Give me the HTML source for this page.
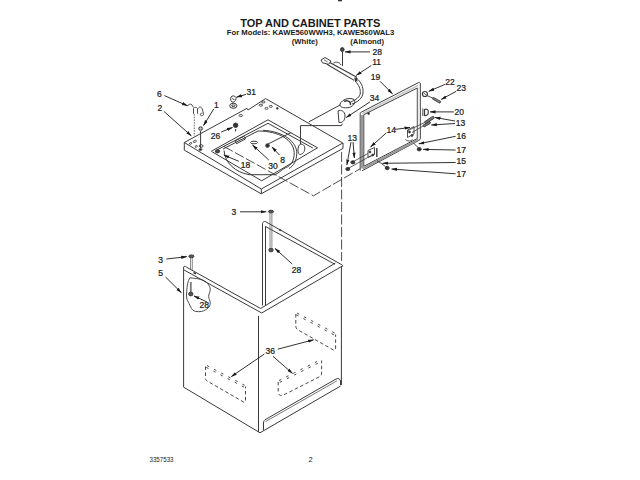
<!DOCTYPE html>
<html><head><meta charset="utf-8"><style>
html,body{margin:0;padding:0;background:#fff;width:640px;height:480px;overflow:hidden}
svg{display:block}
text{font-family:"Liberation Sans",sans-serif;fill:#1a1a1a}
.lb{font-size:9.5px;stroke:#1a1a1a;stroke-width:0.25}
</style></head><body>
<svg width="640" height="480" viewBox="0 0 640 480">
<defs>
<marker id="ah" markerWidth="6" markerHeight="4" refX="5.5" refY="2" orient="auto" markerUnits="userSpaceOnUse">
<path d="M0,0.4 L6,2 L0,3.6 Z" fill="#1a1a1a"/>
</marker>
</defs>
<rect x="338" y="0" width="4" height="1.3" fill="#333"/>
<g id="hdr">
<text transform="translate(240.2,26.9) scale(1.09,1)" font-weight="bold" font-size="10.1">TOP AND CABINET PARTS</text>
<text x="226.8" y="35.3" font-weight="bold" font-size="7.7">For Models:  KAWE560WWH3, KAWE560WAL3</text>
<text x="291.8" y="43.75" font-weight="bold" font-size="7.7">(White)</text>
<text x="350.3" y="43.75" font-weight="bold" font-size="7.7">(Almond)</text>
</g>
<g id="draw" fill="none" stroke="#3a3a3a" stroke-width="1">
<!-- top panel -->
<path d="M184.3,142.5 L247,108.3 L248,110 L265.6,98.6 L342.8,143 L261.3,189 Z"/>
<path d="M184.3,142.5 V150.2 L261.2,193.8 L343,148.4 V143"/>
<path d="M261.3,189 V193.8"/>
<!-- holes -->
<g stroke-width="0.9">
<ellipse cx="263.3" cy="102" rx="1.8" ry="1"/>
<ellipse cx="260.9" cy="105.2" rx="1.8" ry="1"/>
<ellipse cx="266.5" cy="108.4" rx="1.5" ry="1"/>
<ellipse cx="270.8" cy="106.4" rx="1.5" ry="1"/>
<ellipse cx="240.8" cy="115.5" rx="1.8" ry="1"/>
<ellipse cx="194.8" cy="141.4" rx="1.7" ry="0.9" transform="rotate(-25 194.8 141.4)" stroke-width="0.8"/>
<ellipse cx="190.6" cy="143.4" rx="1.3" ry="0.8" transform="rotate(-25 190.6 143.4)" stroke-width="0.8"/>
<ellipse cx="196.2" cy="146.4" rx="1.2" ry="0.8" transform="rotate(-25 196.2 146.4)" stroke-width="0.8"/>
</g>
<circle cx="277.3" cy="108.4" r="0.8" fill="#222"/>
<!-- well -->
<path d="M213,150.3 L268,119.8 L317.5,147.8 L261.7,180.8 L213,152.3 C211,151.5 211,150.8 213,150.3 Z"/>
<path d="M216.5,150.2 L268,123.3 L312.8,148"/>
<path d="M223,149 L258,131"/>
<!-- tub ring -->
<path d="M258,131 C279,131 293.5,140 294.2,152.5 C294.5,160 291,166 285.6,167.7 C281,170 278,174 274.4,174.7 L249,174.7 C235,172 225,163 224,150.5"/>
<path d="M263,130.3 C284,131.5 297,142 296.8,153.5 C296.5,161 293.5,166 289,168.5"/>
<!-- lid switch bracket -->
<path d="M300.5,125.6 H341.5 L342.3,123.8 M300.5,125.6 V144"/>
<path d="M299,145.5 C300,143.5 303.5,143.8 304.5,146.5 C305.5,150 304,153.5 300.5,154.5 C298.5,154.8 297.8,152 298,149 C298.2,147.5 298.5,146.5 299,145.5 Z"/>
<path d="M308.8,121.9 L340,105"/>
<!-- long dashed alignment -->
<path d="M224,146.5 L313.4,195.8 L360,168.8" stroke-dasharray="10,2.5" stroke-width="0.9"/>
<path d="M341.6,152 V261" stroke-dasharray="10,2.5" stroke-width="0.9"/>
<!-- cabinet -->
<path d="M262.5,305.5 V223.5 C262.6,222 264,221.3 265.5,221.6 L342.2,265 C343,265.6 342.8,266.5 342,266.5"/>
<path d="M265.5,305.5 V226.3"/>
<path d="M265.5,226.5 L335,264.3"/>
<path d="M183.6,387 V267 C184,266 185.5,266 186.4,267.1"/>
<path d="M186.4,267.1 L260.6,308.5 L335.4,263"/>
<path d="M184.1,270 L261.7,313 L342.2,266.1"/>
<path d="M258.5,315.8 V432"/>
<path d="M341.4,266.5 V385"/>
<path d="M183.4,387 L260,432.8 L340.6,386"/>
<path d="M263.5,430 V423 C263.5,421 264.5,420 266,419.2 L336,379 C338.5,377.8 340,379 340.5,381 V385"/>
<path d="M265.5,421.6 L337,380.8" stroke-width="0.8" stroke="#555"/>
<!-- screws 3 / nuts 28 -->
<ellipse cx="271" cy="211.6" rx="2.6" ry="1.4" fill="#555" stroke-width="1"/>
<path d="M270,213.3 V247.5 M271.9,213.3 V247.5" stroke="#555" stroke-width="0.7"/>
<ellipse cx="271" cy="250" rx="2.2" ry="1.9" fill="#555" stroke-width="0.9"/>
<path d="M279,229.5 L281,230.5" stroke-width="1.6"/>
<ellipse cx="191.4" cy="256.3" rx="2.6" ry="1.4" fill="#555" stroke-width="1"/>
<path d="M190.5,258 V270 M192.3,258 V270" stroke="#555" stroke-width="0.7"/>
<path d="M193.5,272.5 L196,273.8" stroke-width="1.5"/>
<path d="M189.8,277.8 C192,278 194.5,278.3 196.9,278.6 C199,279 201.5,279.5 203.1,280.2 C205.5,281.5 207.5,283 208.6,284.8 C209.8,286.5 210.5,288.5 210.2,290.3 C210,292.5 208.5,294.5 208.6,296.6 C208.8,298.8 210.3,300.8 210.2,302.8 C210.1,305 209.8,306.5 208.6,307.5 C206.5,309.5 204,311 201.6,311.4 C199.5,311.8 197.5,311.8 195.3,311.4 C193.5,310.8 192.2,309.6 191.4,308.3 C190.5,306.8 189.8,305.2 189.1,303.6 C188.2,301.8 187,300 186.7,298.1 C186.3,296 186.5,294 186.7,291.9 C186.9,289.2 187,286.5 187.5,284 C188,281.8 188.8,279.5 189.8,277.8 Z" stroke-width="0.9"/>
<path d="M190.8,282 V292" stroke="#777" stroke-width="1.8"/>
<ellipse cx="190.8" cy="294" rx="2.2" ry="1.9" fill="#555" stroke-width="0.9"/>
<!-- dashed boxes 36 -->
<g stroke-width="0.9" stroke="#333">
<g stroke-dasharray="2.5,5.5">
<path d="M207,365.6 L245,385.5"/><path d="M206.3,367.4 L244.3,387.3"/>
<path d="M297,313 L335.5,333.5"/><path d="M296.3,314.8 L334.8,335.3"/>
<path d="M279,380.5 L321,359.5"/><path d="M279.8,382.3 L321.8,361.3"/>
</g>
<g stroke-dasharray="3.5,2.5">
<path d="M205.5,366.5 V377.5 C205.5,380 206.5,381 208,381.5 L243.5,402 C245,402.5 245.5,401.5 245.5,400 V386.5"/>
<path d="M295.8,314 V326 C295.8,328 297,329.5 299,330.5 L333.5,350 C335,350.5 335.6,349.5 335.6,348 V334.5"/>
<path d="M278.2,382 V392 C278.2,394.5 280,396 282.5,395.5 L319,377 C321,376 321.6,375 321.6,373 V360.5"/>
</g>
</g>
<!-- lid frame 19 -->
<path d="M360.2,170.6 V113.5 C360.2,112.8 360.8,112.3 361.5,112 L418.5,82.6 C419.5,82.2 420.3,82.8 420.3,83.5 V138.5 C420.3,139.3 419.8,139.9 419,140.3 L362,170.8"/>
<path d="M363.8,166.3 V114.6 L417.3,88 V138.5 Z"/>
<path d="M362,115 V168.5" stroke="#9a9a9a" stroke-width="2.4"/>
<path d="M362,113.6 L418.6,85.2" stroke="#c8c8c8" stroke-width="1.6"/>
<path d="M363,168.5 L418.5,139.5" stroke="#999" stroke-width="2"/>
<path d="M418.6,85 V138" stroke="#eee" stroke-width="1.5"/>
<circle cx="368.6" cy="113.5" r="0.9" fill="#333"/>
<!-- lid hinges -->
<path d="M368,150.5 L374.5,147.5 V154.5 L368,157.5 Z" stroke-width="0.9"/>
<circle cx="370" cy="152" r="0.9" fill="#222"/><circle cx="372.8" cy="155" r="0.9" fill="#222"/>
<path d="M376.8,148 V157" stroke-width="1.4"/>
<path d="M407.5,130 L414,126.5 V134 L407.5,137.5 Z" stroke-width="0.9"/>
<circle cx="409.5" cy="132" r="0.9" fill="#222"/><circle cx="412" cy="135.5" r="0.9" fill="#222"/>
<path d="M405.5,139 C406,141 410,142 412.5,139.5" stroke-width="0.9"/>
<ellipse cx="387.2" cy="168" rx="2" ry="1.7" fill="#333"/>
<path d="M377,160.5 L385.5,166.5" stroke-width="0.9"/>
<ellipse cx="419.2" cy="149.2" rx="2" ry="1.7" fill="#333"/>
<path d="M413.4,142.9 L418,147.5" stroke-width="0.9"/>
<!-- washer 22 / screw 23 / 20 / screws 13 -->
<circle cx="424.9" cy="94" r="2.5" stroke-width="1.2"/><path d="M423.5,93 L426.5,95" stroke-width="0.8"/>
<path d="M427,95.5 L433,98.3" stroke-width="0.9"/>
<path d="M433.3,97.3 L440.8,101.5 L439.8,103.2 L432.5,99 Z" stroke-width="0.9" fill="#888"/>
<path d="M424.5,109.5 C427,108.5 428.8,110 428.2,112 C428.8,114 427,116 424.5,115.5 Z" stroke-width="1.2"/>
<path d="M422.8,108.5 V116" stroke-width="0.9"/>
<path d="M424.5,121.8 L432.5,116.5 C434,116 434.8,117.5 433.8,118.5 L425.5,123.8 Z" stroke-width="0.9" fill="#777"/>
<path d="M423,125.2 L429,121.6 C430.5,121.2 431,122.8 430,123.6 L424,127 Z" stroke-width="0.9" fill="#777"/>
<path d="M424.5,122.5 L407,131 M423,126 L412,132.5" stroke-width="0.8"/>
<path d="M349,168 L374,154 M353.5,161.5 L368,153.5" stroke-width="0.8"/>
<ellipse cx="347.8" cy="169" rx="2" ry="1.6" fill="#333"/><ellipse cx="352.9" cy="162.3" rx="2" ry="1.6" fill="#333"/>
<!-- harness 11 -->
<path d="M321,60 L325,57.5 L331,61 L328.5,64.3 L322.5,62.8 Z" stroke-width="1"/>
<path d="M324,59.8 L327.5,61.8" stroke-width="0.8"/>
<path d="M329.8,62.4 L356.8,77.3 M326.9,64.2 L354.2,80.4" stroke-width="1.1"/>
<path d="M333.4,63.1 C336,61.5 339.5,62 341,65" stroke-width="1"/>
<path d="M342.5,52 V66"/>
<ellipse cx="342.3" cy="49.6" rx="1.8" ry="2" fill="#444"/>
<path d="M355.5,77.5 L356.3,81.5" stroke-width="2.5"/>
<path d="M356.5,78 C361,82 363.5,87 363,93 C362.5,98 358,102 352,104"/>
<path d="M355,81 C359,85 360.5,89 360.3,93 C360,97 356,100 350.5,102"/>
<path d="M340,104 C342,99.5 349,97 354,99.5 C356,102 354,106 349,107.5 C344,108.5 339,107 340,104 Z"/>
<path d="M344,101.5 C347,100 351,101 350.5,105" stroke-width="1.4"/>
<!-- lid switch 34 -->
<path d="M338,111 C341,109.5 345,111 345,116 C345,121 342,123 339,122.5 Z"/>
<!-- hinge 6 / screw 1 / part 31 / nut 26 / part 18 / screw 8 / part 30 -->
<g stroke-width="0.9">
<path d="M187.5,106 C188.5,104 190.5,103.5 192,105 L193.5,107.5"/>
<path d="M193.5,113.8 V108.5 C194.5,107 196.5,107 197.5,108.5 V113.8"/>
<path d="M198.2,108.5 C199,106.5 201.5,106.5 202.3,109 L203.5,113.5 C204,115.5 202,116.5 200.6,115.2 C199.8,114 201,112.8 202.5,113.3"/>
</g>
<path d="M194.3,114 V136" stroke-dasharray="1.5,1.2" stroke-width="0.8"/>
<path d="M200.6,131 V148.4"/>
<ellipse cx="200.6" cy="128.6" rx="2" ry="1.8" fill="#555" stroke-width="0.8"/>
<path d="M198.6,128.6 H202.6 M200.6,126.8 V130.4" stroke="#fff" stroke-width="0.5"/>
<ellipse cx="201.1" cy="146" rx="2" ry="1.3" stroke-width="0.9"/><ellipse cx="200.5" cy="149.6" rx="1.6" ry="1" fill="#333" stroke-width="0.6"/>
<g stroke-width="1">
<path d="M231,97 C232,95.5 235,95.5 236,97.5 C236.5,99.5 235,102 233,102.3 C231,102.3 230,99.5 231,97 Z"/>
<path d="M232.2,98.5 L234.5,99.8"/>
<ellipse cx="233.3" cy="105.8" rx="3.6" ry="2.5"/>
<ellipse cx="233.3" cy="105.8" rx="1.6" ry="0.9"/>
</g>
<circle cx="235.6" cy="125.3" r="2.2" fill="#333"/>
<path d="M235.6,129 V131.5"/>
<ellipse cx="217.5" cy="151.3" rx="2.2" ry="1.6" fill="#444"/>
<circle cx="267.5" cy="145.6" r="1.8" fill="#333"/>
<path d="M268,144 L291.2,132.5"/>
<ellipse cx="254" cy="142.5" rx="3.5" ry="1.3"/>
<path d="M235,141 L244,136.3 L245.5,139 L236.5,143.7 Z"/>
</g>
<g id="arrows" fill="none" stroke="#1a1a1a" stroke-width="0.9" marker-end="url(#ah)">
<path d="M164.4,95.6 L187.5,105.8"/>
<path d="M163.8,111.3 L191.3,135.8"/>
<path d="M213.8,108.9 L203.5,125.5"/>
<path d="M245.9,94.4 L236.5,97.2"/>
<path d="M221.2,132 L232.5,127.5"/>
<path d="M238.8,161.3 L223.8,155"/>
<path d="M268.8,160 L252.5,145"/>
<path d="M279.4,155 L271.9,146.9"/>
<path d="M370,51.9 L345,51.9"/>
<path d="M371.3,65.5 L356.3,75.3"/>
<path d="M380,81.3 L392.5,93.8"/>
<path d="M370,101.9 L346.2,117.5"/>
<path d="M445,84.4 L428.8,91.3"/>
<path d="M456.2,91.3 L441.2,99.4"/>
<path d="M453.8,111.9 L430,111.9"/>
<path d="M455,121 L435,117.5"/>
<path d="M455,123.5 L431.3,125"/>
<path d="M455.6,136.3 L418.8,143.8"/>
<path d="M455.6,150 L423.1,149.4"/>
<path d="M455.6,162.5 L382.5,163.3"/>
<path d="M455.6,173.8 L391.6,169"/>
<path d="M395,129.4 L410,127.5"/>
<path d="M386.2,133 L370.6,146.9"/>
<path d="M351,142 L346.9,165"/>
<path d="M353,142 L354.4,158"/>
<path d="M240,211.8 L266.2,211.8"/>
<path d="M166.4,259 L186.7,256.7"/>
<path d="M165.6,277 L181.3,292.7"/>
<path d="M292.2,264 L275,248.4"/>
<path d="M207,302 L194,296"/>
<path d="M277.7,349.2 L313.6,339.8"/>
<path d="M273,356.3 L292.5,373.4"/>
<path d="M264.4,354 L231.3,376.6"/>
</g>
<g id="labels" class="lb">
<text transform="translate(372.6,55.3) scale(0.9,1)">28</text>
<text transform="translate(372.2,64.8) scale(0.9,1)">11</text>
<text transform="translate(370.8,80.0) scale(0.9,1)">19</text>
<text transform="translate(369.8,100.8) scale(0.9,1)">34</text>
<text transform="translate(445.2,85.0) scale(0.9,1)">22</text>
<text transform="translate(456.5,90.6) scale(0.9,1)">23</text>
<text transform="translate(454.6,115.0) scale(0.9,1)">20</text>
<text transform="translate(455.8,125.6) scale(0.9,1)">13</text>
<text transform="translate(456.5,138.75) scale(0.9,1)">16</text>
<text transform="translate(456.5,153.1) scale(0.9,1)">17</text>
<text transform="translate(456.5,164.4) scale(0.9,1)">15</text>
<text transform="translate(456.5,176.9) scale(0.9,1)">17</text>
<text transform="translate(386.5,132.5) scale(0.9,1)">14</text>
<text transform="translate(347.6,140.6) scale(0.9,1)">13</text>
<text transform="translate(157.1,96.9) scale(0.9,1)">6</text>
<text transform="translate(157.6,110.6) scale(0.9,1)">2</text>
<text transform="translate(214.0,107.5) scale(0.9,1)">1</text>
<text transform="translate(246.5,94.8) scale(0.9,1)">31</text>
<text transform="translate(210.8,138.75) scale(0.9,1)">26</text>
<text transform="translate(240.8,167.5) scale(0.9,1)">18</text>
<text transform="translate(268.3,168.75) scale(0.9,1)">30</text>
<text transform="translate(280.2,163.1) scale(0.9,1)">8</text>
<text transform="translate(231.6,215.0) scale(0.9,1)">3</text>
<text transform="translate(291.8,272.6) scale(0.9,1)">28</text>
<text transform="translate(158.2,263.2) scale(0.9,1)">3</text>
<text transform="translate(158.2,276.25) scale(0.9,1)">5</text>
<text transform="translate(199.6,308.3) scale(0.9,1)">28</text>
<text transform="translate(265.5,354.1) scale(0.9,1)">36</text>
</g>
<text x="149.5" y="461.9" font-size="7" textLength="24" lengthAdjust="spacingAndGlyphs">3357533</text>
<text x="308.4" y="461.9" font-size="7.5">2</text>
</svg>
</body></html>
